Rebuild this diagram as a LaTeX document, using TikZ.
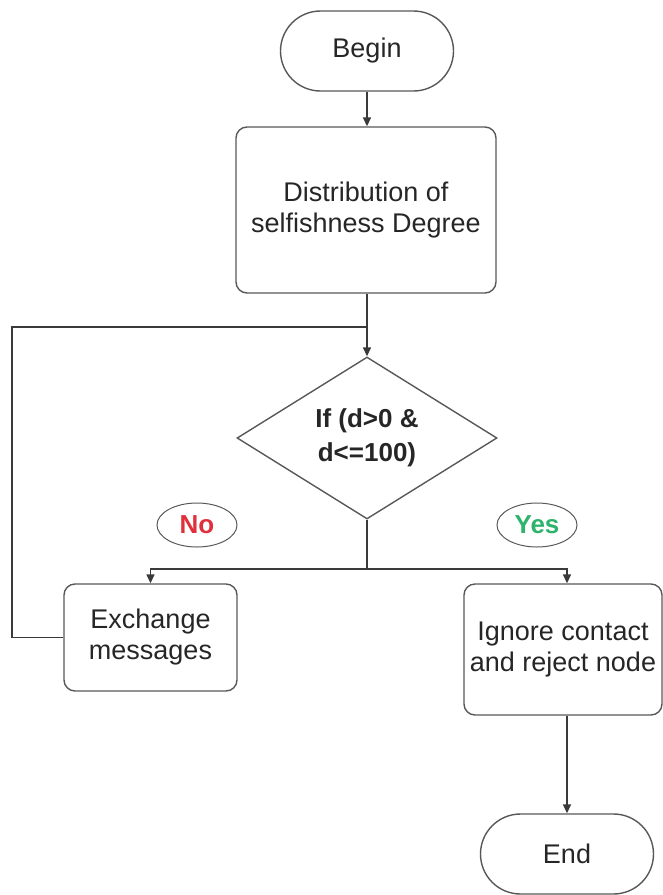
\documentclass[tikz,border=0pt]{standalone}
\usepackage{fontspec}
\setmainfont{Liberation Sans}
\usetikzlibrary{shapes.geometric,arrows.meta}
\definecolor{edge}{HTML}{3A3A3A}
\definecolor{nored}{HTML}{E0303C}
\definecolor{yesgreen}{HTML}{2DB36B}

\begin{document}
\begin{tikzpicture}[x=1pt,y=-1pt,
  base/.style={draw=edge!85, line width=1.4pt, align=center, inner sep=0pt,
               text=black!85, font=\fontsize{27}{31}\selectfont},
  terminal/.style={base, rounded corners=40pt, minimum width=173pt, minimum height=80pt},
  process/.style={base, rounded corners=11pt},
  decision/.style={base, diamond, aspect=1.6, minimum width=260pt, minimum height=162pt,
               font=\fontsize{26}{34}\selectfont\bfseries},
  tag/.style={ellipse, draw=black!65, line width=1pt, minimum width=80pt, minimum height=44pt,
               inner sep=0pt, font=\fontsize{26}{28}\selectfont\bfseries},
  flow/.style={draw=edge, line width=1.4pt},
  arrow/.style={flow, -{Triangle[length=9pt,width=8pt]}}
]
\useasboundingbox (0,0) rectangle (663,895);

% nodes
\node[terminal] (begin) at (367,51) {Begin};
\node[process, minimum width=260pt, minimum height=166pt] (dist) at (366,210)
  {Distribution of\\selfishness Degree};
\node[decision] (dec) at (367,438) {If (d>0 \&\\d<=100)};
\node[process, minimum width=173pt, minimum height=107pt] (exch) at (150.5,637.5)
  {Exchange\\messages};
\node[process, minimum width=198pt, minimum height=131pt] (ign) at (563,649.5)
  {Ignore contact\\and reject node};
\node[terminal] (end) at (567,854) {End};

\node[tag, text=nored] (no) at (197,525) {No};
\node[tag, text=yesgreen] (yes) at (537,525) {Yes};

% junction points
\coordinate (j1) at (367,327);
\coordinate (loop) at (12,327);
\coordinate (j2) at (367,569);

% connectors
\draw[arrow] (begin.south) -- (dist.north -| begin.south);
\draw[flow] (dist.south -| j1) -- (j1);
\draw[arrow] (j1) -- (dec.north);
\draw[flow] (exch.west) -| (loop) -- (j1);
\draw[flow] (dec.south) -- (j2);
\draw[arrow] (j2) -| (exch.north);
\draw[arrow] (j2) -| ([xshift=4pt]ign.north);
\draw[arrow] ([xshift=4pt]ign.south) -- (end.north);
\end{tikzpicture}
\end{document}
